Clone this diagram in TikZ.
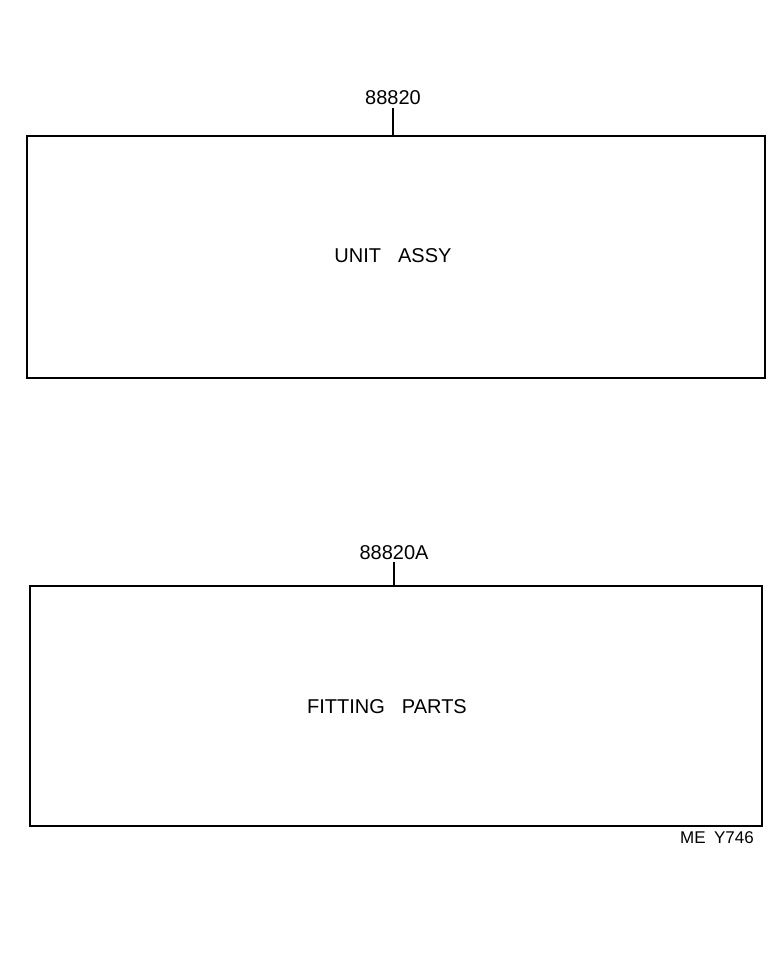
\documentclass[tikz,border=0pt]{standalone}
\usepackage{fontspec}
\setmainfont{Liberation Sans}
\begin{document}
\begin{tikzpicture}[x=1pt,y=-1pt,
  box/.style={draw,line width=1.6pt},
  lbl/.style={font=\fontsize{20}{23}\selectfont,inner sep=0pt},
  lead/.style={line width=1.6pt}]
\useasboundingbox (0,0) rectangle (784,970);
\node[box,minimum width=738pt,minimum height=242pt,anchor=north west] (b1) at (26,135) {};
\node[lbl] (t1) at (393,98) {88820};
\coordinate (c1) at (393,108);
\draw[lead] (c1) -- (b1.north -| c1);
\node[lbl] (u1) at (393,256) {UNIT\hspace{0.85em}ASSY};
\node[box,minimum width=732pt,minimum height=240pt,anchor=north west] (b2) at (29,585) {};
\node[lbl] (t2) at (394,553) {88820A};
\coordinate (c2) at (394,562);
\draw[lead] (c2) -- (b2.north -| c2);
\node[lbl] (u2) at (387,707) {FITTING\hspace{0.85em}PARTS};
\node[lbl,font=\fontsize{17}{20}\selectfont] (me) at (717,838) {ME\hspace{0.5em}Y746};
\end{tikzpicture}
\end{document}
